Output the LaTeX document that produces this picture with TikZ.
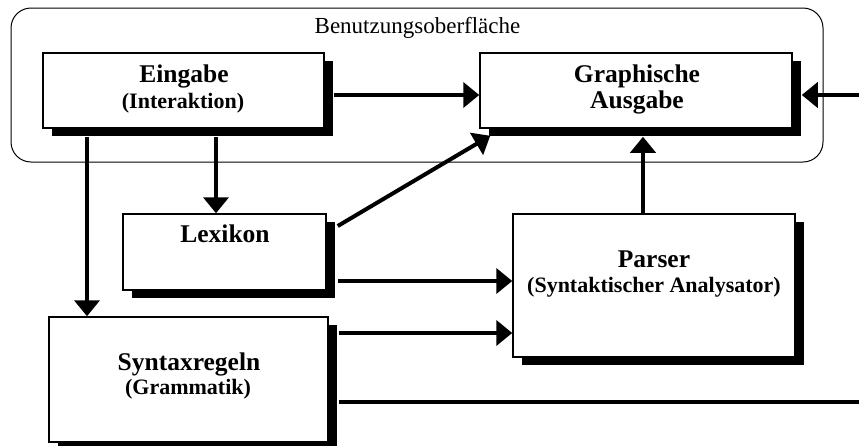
\documentclass[tikz,border=0pt]{standalone}
\usepackage{fontspec}
\setmainfont{Liberation Serif}
\usetikzlibrary{arrows.meta}
\usetikzlibrary{shadows}
\usetikzlibrary{positioning}

\begin{document}
\begin{tikzpicture}[x=1pt,y=-1pt]
    \tikzstyle{box}=[draw,line width=1.5pt,fill=white,inner sep=0pt,
        drop shadow={shadow xshift=9pt,shadow yshift=-8pt,fill=black,opacity=1}]
    \tikzstyle{flow}=[line width=4pt,-{Triangle[length=16pt,width=25pt]}]
    \tikzstyle{title}=[anchor=base,font=\bfseries\fontsize{25.5}{28}\selectfont]
    \tikzstyle{sub}=[anchor=base,font=\bfseries\fontsize{22}{24}\selectfont]
    \useasboundingbox (0,0) rectangle (859,445);
    % Draw the frame of the user interface
    \draw[rounded corners=20pt,line width=1pt] (11,8) rectangle (823,162);
    \node[anchor=base,font=\fontsize{23}{26}\selectfont] (gui) at (417.5,33) {Benutzungsoberfläche};
    % Draw the boxes
    \node[box,minimum width=281pt,minimum height=75pt] (ein) at (183.5,90.5) {};
    \node[box,minimum width=312pt,minimum height=75pt] (gra) at (636,90.5) {};
    \node[box,minimum width=203pt,minimum height=76pt] (lex) at (224.5,252) {};
    \node[box,minimum width=282pt,minimum height=143pt] (par) at (654,285.5) {};
    \node[box,minimum width=279pt,minimum height=125pt] (syn) at (188.5,379.5) {};
    % Texts of the boxes
    \node[title] (eint) at (184,82) {Eingabe};
    \node[sub] (eins) at (183,108) {(Interaktion)};
    \node[title] (grat) at (637,82) {Graphische};
    \node[title] (gras) at (637,108) {Ausgabe};
    \node[title] (lext) at (225,242) {Lexikon};
    \node[title] (part) at (654,267) {Parser};
    \node[sub] (pars) at (654,292) {(Syntaktischer Analysator)};
    \node[title] (synt) at (189,370) {Syntaxregeln};
    \node[sub] (syns) at (188,394) {(Grammatik)};
    % Draw the connections
    \coordinate (inp) at (859,95);
    \coordinate (out) at (859,402);
    \draw[flow] ([shift={(9,4.5)}]ein.east) -- (gra.west |- 0,95);
    \draw[flow] (inp) -- ([shift={(9,4.5)}]gra.east);
    \draw[flow] ([shift={(32.5,8)}]ein.south) -- ([xshift=-8.5pt]lex.north);
    \draw[flow] ([shift={(-96.5,8)}]ein.south) -- ([xshift=-101.5pt]syn.north);
    \draw[flow] ([shift={(11,-26)}]lex.east) -- ([shift={(11,7)}]gra.south west);
    \draw[flow] ([shift={(11,29)}]lex.east) -- ([shift={(0,-4.5)}]par.west);
    \draw[flow] ([shift={(10,-46.5)}]syn.east) -- ([shift={(0,47.5)}]par.west);
    \draw[line width=4pt] ([shift={(10,22.5)}]syn.east) -- (out);
    \draw[flow] ([xshift=-11pt]par.north) -- ([shift={(7,8)}]gra.south);
\end{tikzpicture}
\end{document}
